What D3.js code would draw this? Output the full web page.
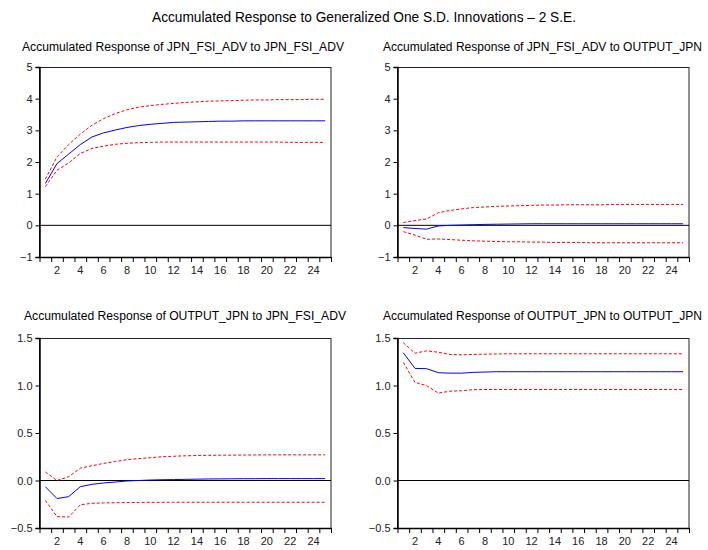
<!DOCTYPE html>
<html><head><meta charset="utf-8">
<script src="https://cdn.jsdelivr.net/npm/d3@7"></script>
<style>body{margin:0;background:#fff}svg{display:block;font-family:"Liberation Sans",Arial,Helvetica,sans-serif}</style>
</head><body><svg id="c" width="708" height="550"></svg>
<script>
const mainTitle = "Accumulated Response to Generalized One S.D. Innovations \u2013 2 S.E.";
const panelTitles = [
  "Accumulated Response of JPN_FSI_ADV to JPN_FSI_ADV",
  "Accumulated Response of JPN_FSI_ADV to OUTPUT_JPN",
  "Accumulated Response of OUTPUT_JPN to JPN_FSI_ADV",
  "Accumulated Response of OUTPUT_JPN to OUTPUT_JPN"
];
const periods = [1,2,3,4,5,6,7,8,9,10,11,12,13,14,15,16,17,18,19,20,21,22,23,24,25];
const xTickLabels = [2,4,6,8,10,12,14,16,18,20,22,24];
const yTicksTop = [-1,0,1,2,3,4,5];
const yTicksBottom = [-0.5,0.0,0.5,1.0,1.5];

// Panel 1: JPN_FSI_ADV to JPN_FSI_ADV
const resp1 = [1.32,1.95,2.25,2.55,2.79,2.92,3.01,3.09,3.15,3.19,3.22,3.25,3.26,3.27,3.28,3.29,3.29,3.30,3.30,3.30,3.30,3.30,3.30,3.30,3.30];
const upper1 = [1.46,2.16,2.55,2.88,3.16,3.37,3.53,3.65,3.73,3.78,3.82,3.85,3.88,3.90,3.92,3.93,3.94,3.95,3.96,3.96,3.97,3.97,3.97,3.98,3.98];
const lower1 = [1.22,1.74,1.97,2.27,2.43,2.50,2.56,2.59,2.61,2.62,2.63,2.63,2.63,2.63,2.63,2.63,2.63,2.63,2.63,2.63,2.63,2.62,2.62,2.62,2.62];
// Panel 2: JPN_FSI_ADV to OUTPUT_JPN
const resp2 = [-0.07,-0.10,-0.12,-0.02,0.00,0.01,0.02,0.03,0.035,0.04,0.045,0.05,0.05,0.05,0.05,0.05,0.05,0.05,0.05,0.05,0.05,0.05,0.05,0.05,0.05];
const upper2 = [0.09,0.15,0.20,0.40,0.47,0.52,0.56,0.58,0.60,0.61,0.62,0.63,0.64,0.64,0.65,0.65,0.65,0.65,0.66,0.66,0.66,0.66,0.66,0.66,0.66];
const lower2 = [-0.20,-0.31,-0.44,-0.43,-0.45,-0.47,-0.49,-0.50,-0.51,-0.52,-0.52,-0.53,-0.53,-0.54,-0.54,-0.54,-0.55,-0.55,-0.55,-0.55,-0.55,-0.55,-0.55,-0.55,-0.55];
// Panel 3: OUTPUT_JPN to JPN_FSI_ADV
const resp3 = [-0.065,-0.19,-0.17,-0.065,-0.04,-0.026,-0.016,-0.005,0.0,0.005,0.008,0.01,0.012,0.014,0.016,0.017,0.018,0.019,0.019,0.02,0.02,0.02,0.02,0.02,0.02];
const upper3 = [0.09,0.0,0.04,0.13,0.155,0.18,0.20,0.22,0.23,0.24,0.25,0.255,0.26,0.263,0.265,0.266,0.267,0.268,0.269,0.27,0.27,0.27,0.27,0.27,0.27];
const lower3 = [-0.21,-0.38,-0.385,-0.255,-0.24,-0.236,-0.234,-0.232,-0.231,-0.23,-0.23,-0.229,-0.229,-0.229,-0.229,-0.229,-0.229,-0.229,-0.229,-0.229,-0.229,-0.229,-0.229,-0.229,-0.229];
// Panel 4: OUTPUT_JPN to OUTPUT_JPN
const resp4 = [1.344,1.18,1.177,1.135,1.13,1.13,1.138,1.142,1.145,1.145,1.145,1.145,1.145,1.145,1.145,1.145,1.145,1.145,1.145,1.145,1.145,1.145,1.145,1.145,1.145];
const upper4 = [1.45,1.34,1.365,1.35,1.327,1.323,1.327,1.33,1.332,1.334,1.334,1.334,1.334,1.334,1.334,1.334,1.334,1.334,1.334,1.334,1.334,1.334,1.334,1.334,1.334];
const lower4 = [1.243,1.033,0.998,0.92,0.94,0.945,0.956,0.958,0.958,0.958,0.958,0.958,0.958,0.958,0.958,0.958,0.958,0.958,0.958,0.958,0.958,0.958,0.958,0.958,0.958];

const svg = d3.select("#c");
svg.append("rect").attr("width",708).attr("height",550).attr("fill","#fff");

svg.append("text").attr("x",364).attr("y",22).attr("text-anchor","middle")
  .attr("font-size",14).attr("fill","#000")
  .attr("textLength",424).attr("lengthAdjust","spacingAndGlyphs").text(mainTitle);

const panels = [
  {title:panelTitles[0], tx:22, ty:51, tl:322, x0:39.5, x1:331, y0:67, y1:257, dom:[-1,5], ticks:yTicksTop, fmt:d3.format("d"), mid:resp1, up:upper1, lo:lower1},
  {title:panelTitles[1], tx:383, ty:51, tl:319, x0:397.5, x1:689, y0:67, y1:257, dom:[-1,5], ticks:yTicksTop, fmt:d3.format("d"), mid:resp2, up:upper2, lo:lower2},
  {title:panelTitles[2], tx:24, ty:320, tl:322, x0:39.5, x1:331, y0:338, y1:528, dom:[-0.5,1.5], ticks:yTicksBottom, fmt:d3.format(".1f"), mid:resp3, up:upper3, lo:lower3},
  {title:panelTitles[3], tx:383, ty:320, tl:319, x0:397.5, x1:689, y0:338, y1:528, dom:[-0.5,1.5], ticks:yTicksBottom, fmt:d3.format(".1f"), mid:resp4, up:upper4, lo:lower4}
];

panels.forEach(p => {
  const g = svg.append("g");
  g.append("text").attr("x",p.tx).attr("y",p.ty).attr("font-size",12).attr("fill","#000")
    .attr("textLength",p.tl).attr("lengthAdjust","spacingAndGlyphs").text(p.title);

  const x = d3.scaleLinear().domain([0.5,25.5]).range([p.x0,p.x1]);
  const y = d3.scaleLinear().domain(p.dom).range([p.y1,p.y0]);

  g.append("rect").attr("x",p.x0).attr("y",p.y0+0.5).attr("width",p.x1-p.x0).attr("height",p.y1-p.y0)
    .attr("fill","none").attr("stroke","#222").attr("stroke-width",1);

  const ya = d3.axisLeft(y).tickValues(p.ticks).tickFormat(p.fmt).tickSize(4).tickPadding(3);
  const yg = g.append("g").attr("transform",`translate(${p.x0},0)`).call(ya);
  yg.select(".domain").attr("stroke","#000").attr("stroke-width",1.5);
  yg.selectAll(".tick line").attr("stroke","#000");
  yg.selectAll("text").attr("font-size",11).attr("font-family","Liberation Sans, Arial, sans-serif").attr("fill","#222");

  const bounds = periods.map(v => v - 0.5).concat([25.5]);
  const xa = d3.axisBottom(x).tickValues(bounds).tickFormat("").tickSize(5).tickSizeOuter(0);
  const xg = g.append("g").attr("transform",`translate(0,${p.y1})`).call(xa);
  xg.select(".domain").attr("stroke","#000").attr("stroke-width",1.5);
  xg.selectAll(".tick line").attr("stroke","#000");
  g.selectAll(".xl").data(xTickLabels).enter().append("text")
    .attr("x",d => x(d)).attr("y",p.y1+17).attr("text-anchor","middle")
    .attr("font-size",11).attr("fill","#222").text(d => d);

  g.append("line").attr("x1",p.x0).attr("x2",p.x1).attr("y1",y(0)).attr("y2",y(0))
    .attr("stroke","#000").attr("stroke-width",1);

  const line = d3.line().x((d,i) => x(periods[i])).y(d => y(d));
  [p.up, p.lo].forEach(arr => {
    g.append("path").datum(arr).attr("d",line).attr("fill","none").attr("stroke","#ff0000")
      .attr("stroke-width",1).attr("stroke-dasharray","3,2");
  });
  g.append("path").datum(p.mid).attr("d",line).attr("fill","none").attr("stroke","#0000ff")
    .attr("stroke-width",1);
});
</script></body></html>
